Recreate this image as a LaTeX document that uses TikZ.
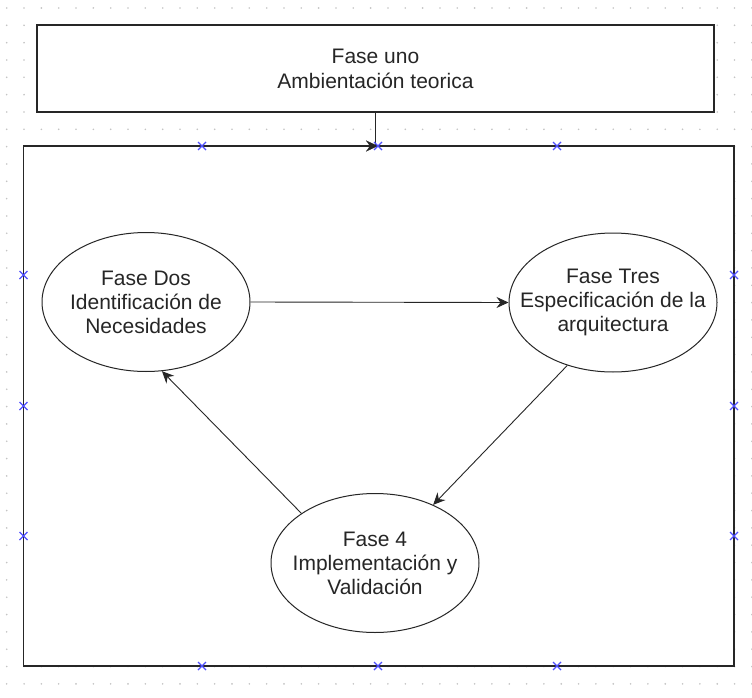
\documentclass[tikz,border=0pt]{standalone}
\usepackage{fontspec}
\setmainfont{Liberation Sans}
\usetikzlibrary{shapes.geometric,arrows.meta,calc}
\definecolor{gridgray}{HTML}{C4C4C4}
\definecolor{markblue}{HTML}{4F4FFF}
\definecolor{ink}{HTML}{262626}
\tikzset{
  phasebox/.style={draw=ink, line width=1.4pt, fill=white, inner sep=0pt},
  phaseell/.style={ellipse, draw=ink, line width=1pt, fill=white, inner sep=0pt,
     minimum width=208pt, minimum height=139pt},
  phasetext/.style={align=center, inner sep=0pt, font=\fontsize{21}{24}\selectfont, text=ink},
  link/.style={draw=ink, line width=0.9pt, -{Stealth[length=12pt,width=11pt,inset=4pt]}},
  xmark/.style={draw=markblue, line width=1.1pt}
}
\newcommand{\xmk}[1]{\draw[xmark] ($(#1)+(-4pt,-4pt)$) -- ($(#1)+(4pt,4pt)$) ($(#1)+(-4pt,4pt)$) -- ($(#1)+(4pt,-4pt)$);}
\begin{document}
\begin{tikzpicture}[x=1pt,y=-1pt]
\useasboundingbox[fill=white] (0,0) rectangle (752,698);
% dotted grid
\foreach \i in {0,...,43}{
  \foreach \j in {0,...,39}{
    \fill[gridgray] ({6.7+17.33*\i},{8+17.33*\j}) circle (0.9pt);
  }
}
% top box
\node[phasebox, minimum width=677pt, minimum height=87pt, align=center,
      font=\fontsize{21}{25}\selectfont, text=ink] (f1) at (375.5,68.5)
      {Fase uno\\Ambientación teorica};
% outer frame
\node[phasebox, line width=1.6pt, minimum width=710.5pt, minimum height=520pt] (frame) at (378.75,406) {};
% ellipses
\node[phaseell] (d2) at (146,302) {};
\node[phaseell] (d3) at (613,302.5) {};
\node[phaseell] (d4) at (375,563) {};
\node[phasetext] (t2) at (d2.center) {Fase Dos\\Identificación de\\Necesidades};
\node[phasetext] (t3) at (d3.center) {Fase Tres\\Especificación de la\\arquitectura};
\node[phasetext] (t4) at (d4.center) {Fase 4\\Implementación y\\Validación};
% connectors
\coordinate (tip) at (378,146);
\draw[draw=ink, line width=1pt] (f1.south -| 375,0) -- (375,146);
\draw[draw=ink, line width=0.1pt, -{Stealth[length=12pt,width=11pt,inset=4pt]}] (364,146) -- (tip);
\draw[link] (d2.east) -- (d3.west);
\draw[link] (d3.234) -- (d4.45);
\draw[link] (d4.146) -- (d2.283.5);
% blue markers
\foreach \px in {202,378,557}{
  \xmk{\px,146}
  \xmk{\px,666}
}
\foreach \py in {275,406,536}{
  \xmk{23.5,\py}
  \xmk{734,\py}
}
\end{tikzpicture}
\end{document}
